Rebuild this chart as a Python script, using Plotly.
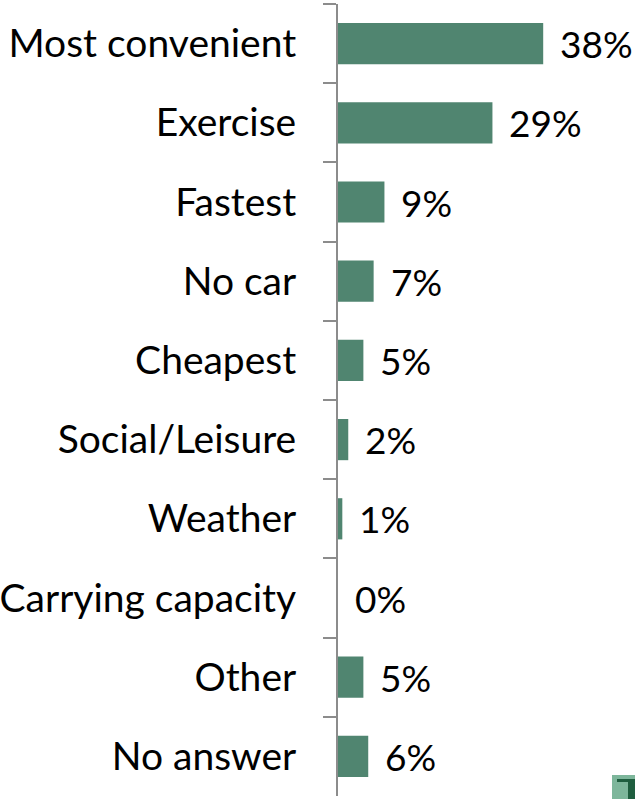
import plotly.graph_objects as go

categories = ["Most convenient", "Exercise", "Fastest", "No car", "Cheapest",
              "Social/Leisure", "Weather", "Carrying capacity", "Other", "No answer"]
values = [38.0, 28.6, 8.6, 6.6, 4.7, 1.9, 0.8, 0.0, 4.7, 5.6]
labels = ["38%", "29%", "9%", "7%", "5%", "2%", "1%", "0%", "5%", "6%"]

FONT = "Lato, Open Sans, sans-serif"
FS_CAT = 39
FS_VAL = 37

fig = go.Figure()
fig.add_trace(go.Bar(
    y=categories, x=values, orientation="h",
    marker=dict(color="#508570", line=dict(width=0)),
    showlegend=False, hoverinfo="skip",
))

for c, v, t in zip(categories, values, labels):
    fig.add_annotation(x=v, y=c, text=t, showarrow=False, xanchor="left",
                       xshift=15, font=dict(family=FONT, size=FS_VAL, color="black"))

fig.update_layout(
    width=635, height=799,
    margin=dict(l=338, r=0, t=4, b=3),
    plot_bgcolor="white", paper_bgcolor="white",
    bargap=0.48,
    font=dict(family=FONT, size=FS_VAL, color="black"),
    xaxis=dict(range=[0, 55], visible=False, showgrid=False, zeroline=False),
    yaxis=dict(autorange="reversed", showline=True, linecolor="#8c8c8c", linewidth=2,
               ticks="outside", ticklen=13, tickwidth=2, tickcolor="#8c8c8c",
               tickson="boundaries", showgrid=False, ticklabelstandoff=32,
               automargin=False,
               tickfont=dict(family=FONT, size=FS_CAT, color="black")),
)

def px_x(p):
    return (p - 338) / 297

def px_y(p):
    return (796 - p) / 792

fig.add_shape(type="rect", xref="paper", yref="paper", x0=px_x(612), x1=px_x(635),
              y0=px_y(799), y1=px_y(775), line=dict(width=0), fillcolor="#7db69b", layer="above")
fig.add_shape(type="rect", xref="paper", yref="paper", x0=px_x(617), x1=px_x(635),
              y0=px_y(782), y1=px_y(779), line=dict(width=0), fillcolor="#1f5e3f", layer="above")
fig.add_shape(type="rect", xref="paper", yref="paper", x0=px_x(628), x1=px_x(635),
              y0=px_y(799), y1=px_y(779), line=dict(width=0), fillcolor="#1f5e3f", layer="above")

fig.write_html("out.html", config={"displayModeBar": False},
               post_script="document.body.style.margin='0';")
